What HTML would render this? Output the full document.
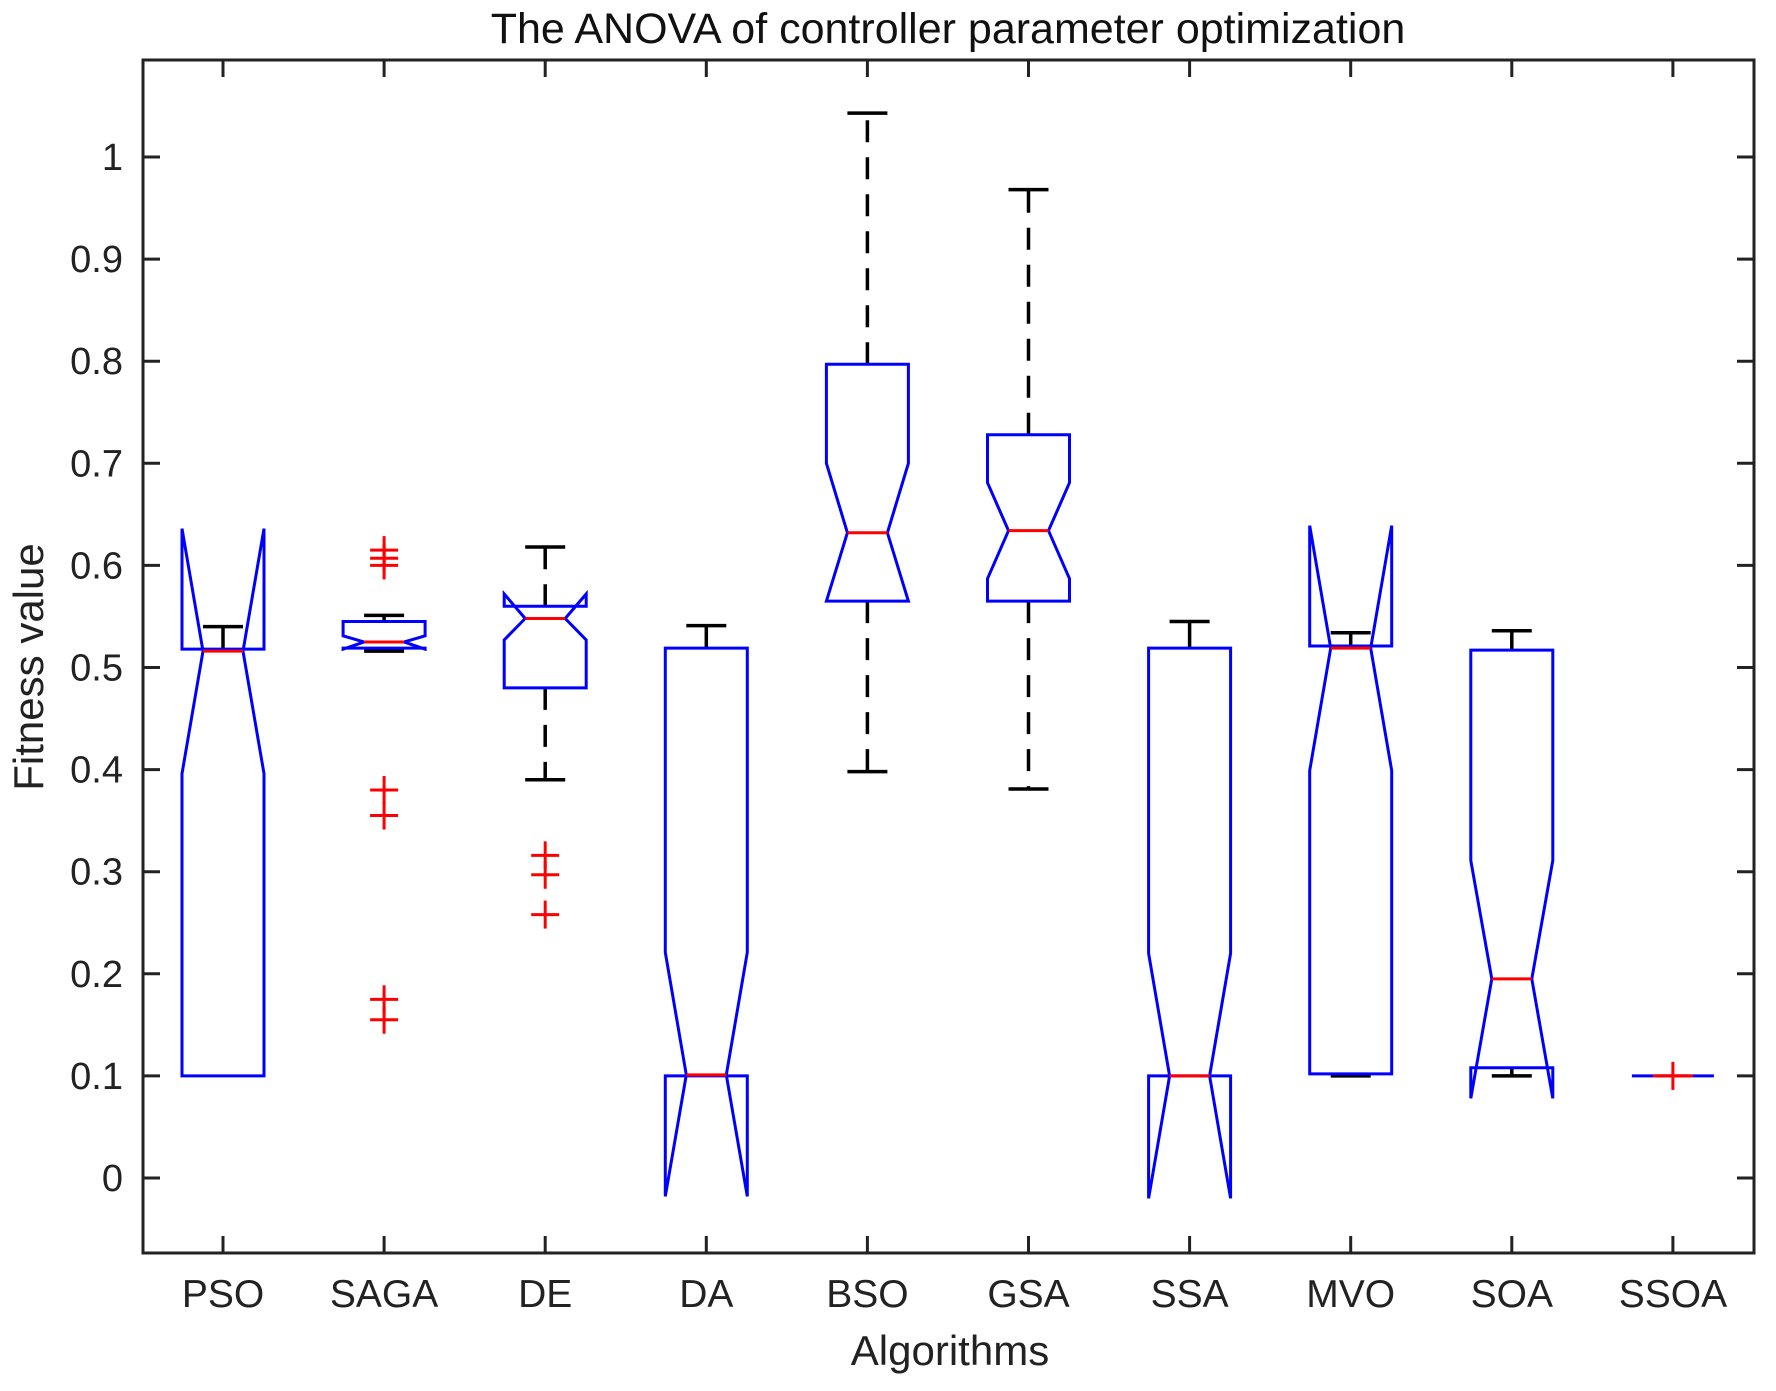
<!DOCTYPE html>
<html><head><meta charset="utf-8"><style>body{margin:0;background:#fff}svg{display:block}</style></head>
<body>
<svg id="s" width="1776" height="1391" xmlns="http://www.w3.org/2000/svg" font-family="Liberation Sans, Arial, sans-serif">
<rect width="1776" height="1391" fill="#fff"/>
</svg>
<script>
const s=document.getElementById('s');
const NS='http://www.w3.org/2000/svg';
function el(t,a,txt){const e=document.createElementNS(NS,t);for(const k in a)e.setAttribute(k,a[k]);if(txt!==undefined)e.textContent=txt;s.appendChild(e);return e;}
const L=143,T=60,R=1754,B=1253;
const Y=v=>1178-1021*v, X=i=>223+161.1*i;
for(let k=0;k<=10;k++){const v=k/10,y=Y(v);
 el('line',{x1:L,y1:y,x2:L+17,y2:y,stroke:'#222','stroke-width':3});
 el('line',{x1:R,y1:y,x2:R-17,y2:y,stroke:'#222','stroke-width':3});
 el('text',{x:123,y:y+13,'text-anchor':'end','font-size':38,fill:'#222'},k==10?'1':(k==0?'0':'0.'+k));}
const names=['PSO','SAGA','DE','DA','BSO','GSA','SSA','MVO','SOA','SSOA'];
names.forEach((n,i)=>{const x=X(i);
 el('line',{x1:x,y1:B,x2:x,y2:B-17,stroke:'#222','stroke-width':3});
 el('line',{x1:x,y1:T,x2:x,y2:T+17,stroke:'#222','stroke-width':3});
 el('text',{x:x,y:1307,'text-anchor':'middle','font-size':39,fill:'#222'},n);});
el('rect',{x:L,y:T,width:R-L,height:B-T,fill:'none',stroke:'#222','stroke-width':3});
el('text',{x:948,y:43,'text-anchor':'middle','font-size':43,fill:'#111'},'The ANOVA of controller parameter optimization');
el('text',{x:950,y:1365,'text-anchor':'middle','font-size':42,fill:'#222'},'Algorithms');
el('text',{x:0,y:0,'text-anchor':'middle','font-size':42,fill:'#222',transform:'translate(43,667) rotate(-90)'},'Fitness value');
const D=[
[0.1,0.518,0.516,0.396,0.636,0.1,0.54,[],0],
[0.519,0.545,0.525,0.518,0.531,0.516,0.551,[0.155,0.175,0.355,0.38,0.6,0.607,0.615],0],
[0.48,0.56,0.548,0.527,0.572,0.39,0.618,[0.258,0.297,0.316],1],
[0.1,0.519,0.101,-0.018,0.221,0.1,0.541,[],0],
[0.565,0.797,0.632,0.565,0.7,0.398,1.043,[],1],
[0.565,0.728,0.634,0.587,0.681,0.381,0.968,[],1],
[0.1,0.519,0.1,-0.02,0.22,0.1,0.545,[],0],
[0.102,0.521,0.519,0.399,0.639,0.1,0.534,[],0],
[0.108,0.517,0.195,0.078,0.311,0.1,0.536,[],0],
[0.1,0.1,0.1,0.1,0.1,0.1,0.1,[0.1],0]];
const hw=41,nw=20,cw=20,ph=14;
D.forEach((d,i)=>{const x=X(i);const [q1,q3,m,nl,nh,wl,wh,out,dash]=d;
 const da=dash?'22 15':'none';
 if(wh>q3){el('line',{x1:x,y1:Y(q3),x2:x,y2:Y(wh),stroke:'#000','stroke-width':3.5,'stroke-dasharray':da});
  el('line',{x1:x-cw,y1:Y(wh),x2:x+cw,y2:Y(wh),stroke:'#000','stroke-width':3.5});}
 if(wl<q1){el('line',{x1:x,y1:Y(q1),x2:x,y2:Y(wl),stroke:'#000','stroke-width':3.5,'stroke-dasharray':da});}
 if(wl<=q1&&i!=0&&i!=3&&i!=6&&i!=9) el('line',{x1:x-cw,y1:Y(wl),x2:x+cw,y2:Y(wl),stroke:'#000','stroke-width':3.5});
 const p=[[x-hw,q1],[x-hw,nl],[x-nw,m],[x-hw,nh],[x-hw,q3],[x+hw,q3],[x+hw,nh],[x+nw,m],[x+hw,nl],[x+hw,q1]];
 el('polygon',{points:p.map(a=>a[0]+','+Y(a[1])).join(' '),fill:'none',stroke:'#00f','stroke-width':3});
 el('line',{x1:x-nw,y1:Y(m),x2:x+nw,y2:Y(m),stroke:'#f00','stroke-width':3});
 out.forEach(o=>{const y=Y(o);
  el('line',{x1:x-ph,y1:y,x2:x+ph,y2:y,stroke:'#f00','stroke-width':3});
  el('line',{x1:x,y1:y-ph,x2:x,y2:y+ph,stroke:'#f00','stroke-width':3});});
});
</script>
</body></html>
